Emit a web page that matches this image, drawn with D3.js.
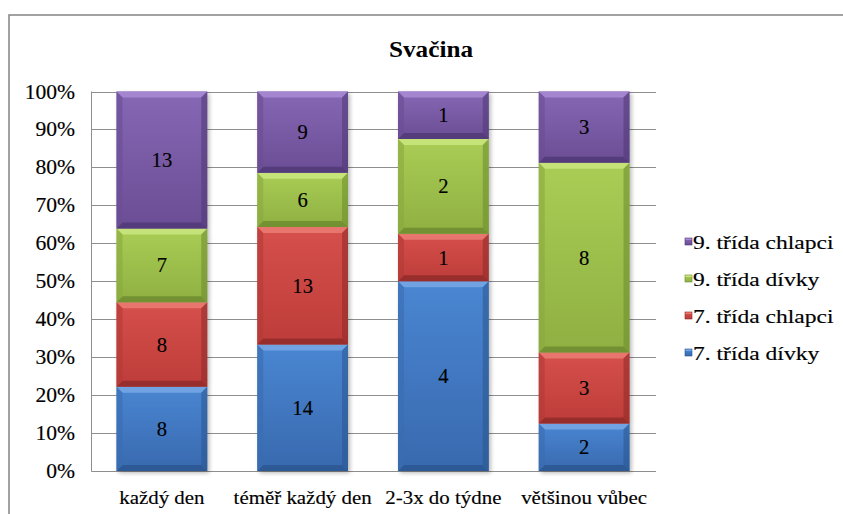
<!DOCTYPE html>
<html>
<head>
<meta charset="utf-8">
<script src="https://cdn.jsdelivr.net/npm/d3@7"></script>
<style>
  html, body { margin: 0; padding: 0; background: #fff; }
  svg { display: block; }
</style>
</head>
<body>
<svg id="chart" width="843" height="514"></svg>
<script>
// Snack habits ("Svačina") by class and gender, stacked to 100 %
const title = "Svačina";
const categories = ["každý den", "téměř každý den", "2-3x do týdne", "většinou vůbec"];
const seriesNames = ["7. třída dívky", "7. třída chlapci", "9. třída dívky", "9. třída chlapci"];
const girls7 = [8, 14, 4, 2];
const boys7 = [8, 13, 1, 3];
const girls9 = [7, 6, 2, 8];
const boys9 = [13, 9, 1, 3];
const yTicks = [0, 0.1, 0.2, 0.3, 0.4, 0.5, 0.6, 0.7, 0.8, 0.9, 1];

const seriesValues = [girls7, boys7, girls9, boys9];
const FONT = "'Liberation Serif', 'Times New Roman', Tinos, 'DejaVu Serif', serif";

// palette: face top, face bottom, bevel light, bevel side, bevel dark
const palette = [
  { top: "#4a86d2", bot: "#3869ae", light: "#76a6e4", side: "#3a6db0", dark: "#2a5590" },
  { top: "#d6504c", bot: "#bd3c39", light: "#ea7a72", side: "#b33a37", dark: "#8e2a28" },
  { top: "#a9cd55", bot: "#8fb042", light: "#c9e67e", side: "#8aa93f", dark: "#6c8a2e" },
  { top: "#8667b4", bot: "#6b4d95", light: "#a68ad2", side: "#6a4c94", dark: "#4f3774" }
];

const rows = categories.map((c, i) => {
  const r = { cat: c };
  seriesNames.forEach((s, j) => { r[s] = seriesValues[j][i]; });
  return r;
});

const stack = d3.stack().keys(seriesNames).offset(d3.stackOffsetExpand);
const layers = stack(rows);

const svg = d3.select("#chart");
const defs = svg.append("defs");

palette.forEach((p, i) => {
  const g = defs.append("linearGradient").attr("id", "face" + i)
    .attr("x1", 0).attr("y1", 0).attr("x2", 0).attr("y2", 1);
  g.append("stop").attr("offset", "0%").attr("stop-color", p.top);
  g.append("stop").attr("offset", "100%").attr("stop-color", p.bot);
});

const blur = defs.append("filter").attr("id", "shadow")
  .attr("x", "-20%").attr("y", "-20%").attr("width", "140%").attr("height", "140%");
blur.append("feGaussianBlur").attr("stdDeviation", 2.2);

// frame of the chart area
svg.append("rect")
  .attr("x", 9).attr("y", 15).attr("width", 860).attr("height", 520)
  .attr("fill", "#fff").attr("stroke", "#8a8a8a").attr("stroke-width", 1.6);

const plot = { left: 91.5, right: 654.5, top: 91.5, bottom: 471 };

const x = d3.scaleBand().domain(categories)
  .range([plot.left, plot.right]).paddingInner(0.355).paddingOuter(0.1775);
const y = d3.scaleLinear().domain([0, 1]).range([plot.bottom, plot.top]);

// helper for horizontally stretched serif text
function stretchedText(parent, px, py, str, size, sx, anchor, weight) {
  const t = parent.append("text")
    .attr("transform", `translate(${px},${py}) scale(${sx},1)`)
    .attr("text-anchor", anchor)
    .attr("font-family", FONT)
    .attr("font-size", size)
    .attr("font-weight", weight || "normal")
    .attr("fill", "#000")
    .text(str);
  if (!weight) t.attr("stroke", "#000").attr("stroke-width", 0.15);
  return t;
}

// gridlines
svg.append("g").selectAll("line").data(yTicks).join("line")
  .attr("x1", plot.left).attr("x2", plot.right + 1.5)
  .attr("y1", d => Math.round(y(d)) + 0.5).attr("y2", d => Math.round(y(d)) + 0.5)
  .attr("stroke", "#8e8e8e").attr("stroke-width", 1);

// value axis line
svg.append("line")
  .attr("x1", plot.left).attr("x2", plot.left)
  .attr("y1", plot.top).attr("y2", plot.bottom + 0.5)
  .attr("stroke", "#8e8e8e").attr("stroke-width", 1);

// y tick labels
const fmt = d3.format(".0%");
const yLab = svg.append("g");
yTicks.forEach(t => {
  stretchedText(yLab, 75, y(t) + 7, fmt(t), 20, 1.08, "end");
});

// bars
const bev = 6;
const barG = svg.append("g");
layers.forEach((layer) => {
  const g = barG.append("g");
  layer.forEach((d) => {
    const x0 = x(d.data.cat), w = x.bandwidth();
    const y0 = y(d[1]), y1 = y(d[0]);
    // soft shadow
    g.append("rect").attr("x", x0 + 2).attr("y", y0 + 2).attr("width", w).attr("height", y1 - y0)
      .attr("fill", "#000").attr("opacity", 0.28).attr("filter", "url(#shadow)");
  });
});
layers.forEach((layer, si) => {
  const p = palette[si];
  const g = barG.append("g");
  layer.forEach((d) => {
    const x0 = x(d.data.cat), w = x.bandwidth(), x1 = x0 + w;
    const y0 = y(d[1]), y1 = y(d[0]);
    const b = Math.min(bev, (y1 - y0) / 2);
    g.append("rect").attr("x", x0).attr("y", y0).attr("width", w).attr("height", y1 - y0)
      .attr("fill", `url(#face${si})`);
    // bevel edges
    g.append("polygon")
      .attr("points", [[x0, y0], [x1, y0], [x1 - b, y0 + b], [x0 + b, y0 + b]].join(" "))
      .attr("fill", p.light).attr("opacity", 0.9);
    g.append("polygon")
      .attr("points", [[x0, y1], [x1, y1], [x1 - b, y1 - b], [x0 + b, y1 - b]].join(" "))
      .attr("fill", p.dark).attr("opacity", 0.8);
    g.append("polygon")
      .attr("points", [[x0, y0], [x0 + b, y0 + b], [x0 + b, y1 - b], [x0, y1]].join(" "))
      .attr("fill", p.side).attr("opacity", 0.6);
    g.append("polygon")
      .attr("points", [[x1, y0], [x1 - b, y0 + b], [x1 - b, y1 - b], [x1, y1]].join(" "))
      .attr("fill", p.dark).attr("opacity", 0.55);
    // value label
    stretchedText(g, x0 + w / 2, (y0 + y1) / 2 + 7, d.data[seriesNames[si]], 20, 1.03, "middle");
  });
});

// category labels
const xLab = svg.append("g");
categories.forEach(c => {
  stretchedText(xLab, x(c) + x.bandwidth() / 2, 504, c, 19, 1.1, "middle");
});

// title
stretchedText(svg, 431, 57, title, 24, 1.05, "middle", "bold");

// legend, top series first
const legend = svg.append("g");
const legendOrder = seriesNames.map((s, i) => i).reverse();
legendOrder.forEach((si, k) => {
  const cy = 242 + k * 37;
  const p = palette[si];
  legend.append("rect").attr("x", 685).attr("y", cy - 4).attr("width", 7).attr("height", 7)
    .attr("fill", `url(#face${si})`).attr("stroke", p.dark).attr("stroke-width", 0.6);
  legend.append("rect").attr("x", 685.5).attr("y", cy - 3.5).attr("width", 6).attr("height", 1.5)
    .attr("fill", p.light);
  stretchedText(legend, 693, cy + 7, seriesNames[si], 19, 1.24, "start");
});
</script>
</body>
</html>
